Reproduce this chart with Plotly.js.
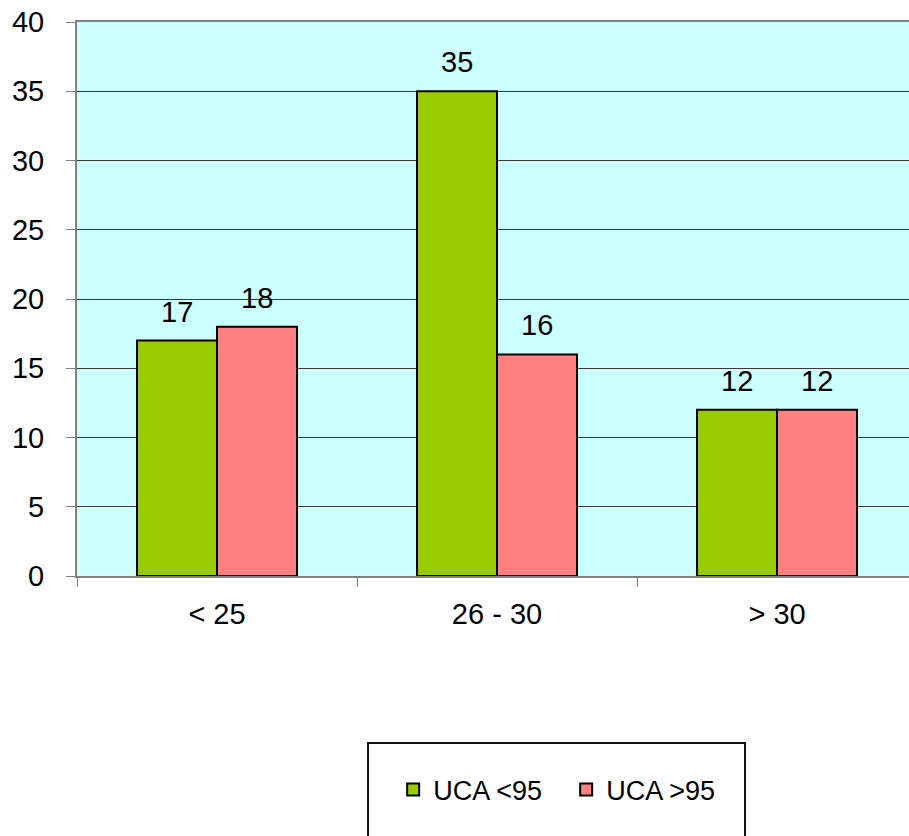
<!DOCTYPE html>
<html>
<head>
<meta charset="utf-8">
<script src="https://cdn.plot.ly/plotly-3.0.1.min.js"></script>
<style>
  html, body { margin: 0; padding: 0; background: #ffffff; }
  #chart { width: 909px; height: 836px; }
</style>
</head>
<body>
<div id="chart"></div>
<script>
// Age groups and counts per UCA group
var categories = ['< 25', '26 - 30', '> 30'];
var seriesNames = ['UCA <95', 'UCA >95'];
var ucaBelow95 = [17, 35, 12];
var ucaAbove95 = [18, 16, 12];
var yTicks = [0, 5, 10, 15, 20, 25, 30, 35, 40];

var FONT = 'Liberation Sans, Arial, sans-serif';
var GREEN = '#99CC00';
var PINK = '#FF8080';

var traces = [
  {
    type: 'bar', name: seriesNames[0], x: categories, y: ucaBelow95,
    marker: { color: GREEN, line: { color: '#000000', width: 2 } },
    hoverinfo: 'skip'
  },
  {
    type: 'bar', name: seriesNames[1], x: categories, y: ucaAbove95,
    marker: { color: PINK, line: { color: '#000000', width: 2 } },
    hoverinfo: 'skip'
  }
];

// value labels above each bar, offset left/right within the group
var annotations = [];
[ucaBelow95, ucaAbove95].forEach(function (vals, s) {
  vals.forEach(function (v, i) {
    annotations.push({
      x: categories[i], y: v, xref: 'x', yref: 'y',
      text: String(v), showarrow: false,
      xanchor: 'center', yanchor: 'bottom',
      xshift: s === 0 ? -40 : 40, yshift: 11,
      font: { family: FONT, size: 29, color: '#000000' }
    });
  });
});

var layout = {
  width: 909, height: 836,
  margin: { l: 77, r: 0, t: 22, b: 260 },
  paper_bgcolor: '#ffffff',
  plot_bgcolor: '#CCFFFF',
  barmode: 'group',
  bargap: 0.4286,
  bargroupgap: 0,
  showlegend: true,
  legend: {
    orientation: 'h',
    x: 0.380, xanchor: 'left',
    y: -0.386, yanchor: 'middle',
    bgcolor: 'rgba(0,0,0,0)',
    borderwidth: 0,
    entrywidth: 128, entrywidthmode: 'pixels',
    font: { family: FONT, size: 27, color: '#000000' }
  },
  xaxis: {
    type: 'category',
    range: [-0.5, 2.4714],
    tickson: 'boundaries',
    ticks: 'outside', ticklen: 9, tickwidth: 1, tickcolor: '#808080',
    showline: true, linecolor: '#808080', linewidth: 2, mirror: true,
    showgrid: false, zeroline: false,
    ticklabelstandoff: 11,
    tickfont: { family: FONT, size: 29, color: '#000000' },
    fixedrange: true
  },
  yaxis: {
    range: [0, 40],
    tickvals: yTicks,
    ticktext: yTicks.map(String),
    ticks: 'outside', ticklen: 9, tickwidth: 1, tickcolor: '#808080',
    showline: true, linecolor: '#808080', linewidth: 2,
    showgrid: true, gridcolor: '#383838', gridwidth: 1,
    zeroline: false,
    ticklabelstandoff: 16,
    tickfont: { family: FONT, size: 29, color: '#000000' },
    fixedrange: true
  },
  annotations: annotations,
  shapes: [
    {
      // frame around the legend
      type: 'rect', xref: 'paper', yref: 'paper',
      x0: 0.3498, x1: 0.8029, y0: -0.3014, y1: -0.62,
      line: { color: '#111111', width: 2 },
      fillcolor: 'rgba(0,0,0,0)',
      layer: 'above'
    }
  ]
};

Plotly.newPlot('chart', traces, layout, { staticPlot: true, displayModeBar: false });
</script>
</body>
</html>
